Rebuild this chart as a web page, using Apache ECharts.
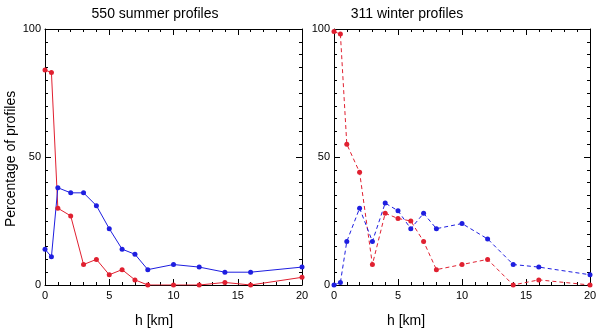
<!DOCTYPE html>
<html>
<head>
<meta charset="utf-8">
<script src="https://cdn.jsdelivr.net/npm/echarts@6/dist/echarts.min.js"></script>
<style>
  html, body { margin: 0; padding: 0; background: #fff; }
  #chart { width: 600px; height: 332px; }
</style>
</head>
<body>
<div id="chart"></div>
<script>
// heights [km]
var heights = [0, 0.5, 1, 2, 3, 4, 5, 6, 7, 8, 10, 12, 14, 16, 20];
// summer (550 profiles)
var summerRed  = [84, 83, 30, 27, 8, 10, 4, 6, 2, 0, 0, 0, 1, 0, 3];
var summerBlue = [14, 11, 38, 36, 36, 31, 22, 14, 12, 6, 8, 7, 5, 5, 7];
// winter (311 profiles)
var winterRed  = [99, 98, 55, 44, 8, 28, 26, 25, 17, 6, 8, 10, 0, 2, 0];
var winterBlue = [0, 1, 17, 30, 17, 32, 29, 22, 28, 22, 24, 18, 8, 7, 4];

var xTicks = [0, 5, 10, 15, 20];
var yTicks = [0, 50, 100];

var RED = '#e02030';
var BLUE = '#1e1ee0';
var FONT = 'Liberation Sans';

function pairs(ys) {
    return heights.map(function (h, i) { return [h, ys[i]]; });
}

function xAxisFor(grid, pos, labels) {
    return {
        type: 'value', gridIndex: grid, position: pos,
        min: xTicks[0], max: xTicks[xTicks.length - 1], interval: 5,
        axisLine: { show: true, onZero: false, lineStyle: { color: '#000', width: 1 } },
        axisTick: { show: true, inside: true, length: 6, lineStyle: { color: '#000' } },
        minorTick: { show: true, splitNumber: 5, length: 3, lineStyle: { color: '#000' } },
        axisLabel: { show: labels, color: '#000', fontFamily: FONT, fontSize: 11, margin: 5 },
        splitLine: { show: false }
    };
}

function yAxisFor(grid, pos, labels) {
    return {
        type: 'value', gridIndex: grid, position: pos,
        min: yTicks[0], max: yTicks[yTicks.length - 1], interval: 50,
        axisLine: { show: true, onZero: false, lineStyle: { color: '#000', width: 1 } },
        axisTick: { show: true, inside: true, length: 6, lineStyle: { color: '#000' } },
        minorTick: { show: true, splitNumber: 10, length: 3, lineStyle: { color: '#000' } },
        axisLabel: { show: labels, color: '#000', fontFamily: FONT, fontSize: 11, margin: 4 },
        splitLine: { show: false }
    };
}

function line(name, xi, yi, data, color, dashed) {
    return {
        name: name, type: 'line', xAxisIndex: xi, yAxisIndex: yi,
        data: pairs(data), symbol: 'circle', symbolSize: 5,
        itemStyle: { color: color },
        lineStyle: { color: color, width: 1, type: dashed ? [4, 3] : 'solid' },
        animation: false, z: 3
    };
}

var myChart = echarts.init(document.getElementById('chart'));
var options = {
    backgroundColor: '#fff',
    animation: false,
    title: [
        { text: '550 summer profiles', left: 150, top: 2, textAlign: 'center',
          textStyle: { fontFamily: FONT, fontSize: 14, fontWeight: 'normal', color: '#000' } },
        { text: '311 winter profiles', left: 402, top: 2, textAlign: 'center',
          textStyle: { fontFamily: FONT, fontSize: 14, fontWeight: 'normal', color: '#000' } }
    ],
    grid: [
        { left: 45, top: 29, width: 257, height: 256 },
        { left: 334, top: 29, width: 256, height: 256 }
    ],
    xAxis: [
        xAxisFor(0, 'bottom', true), xAxisFor(0, 'top', false),
        xAxisFor(1, 'bottom', true), xAxisFor(1, 'top', false)
    ],
    yAxis: [
        yAxisFor(0, 'left', true), yAxisFor(0, 'right', false),
        yAxisFor(1, 'left', true), yAxisFor(1, 'right', false)
    ],
    graphic: [
        { type: 'text', left: 135, top: 314,
          style: { text: 'h [km]', font: '14px "Liberation Sans"', fill: '#000' } },
        { type: 'text', left: 387, top: 314,
          style: { text: 'h [km]', font: '14px "Liberation Sans"', fill: '#000' } },
        { type: 'text', x: 4, y: 227, rotation: Math.PI / 2,
          style: { text: 'Percentage of profiles', font: '14px "Liberation Sans"', fill: '#000' } }
    ],
    series: [
        line('summer red', 0, 0, summerRed, RED, false),
        line('summer blue', 0, 0, summerBlue, BLUE, false),
        line('winter red', 2, 2, winterRed, RED, true),
        line('winter blue', 2, 2, winterBlue, BLUE, true)
    ]
};
myChart.setOption(options);
window.addEventListener('resize', myChart.resize);
</script>
</body>
</html>
